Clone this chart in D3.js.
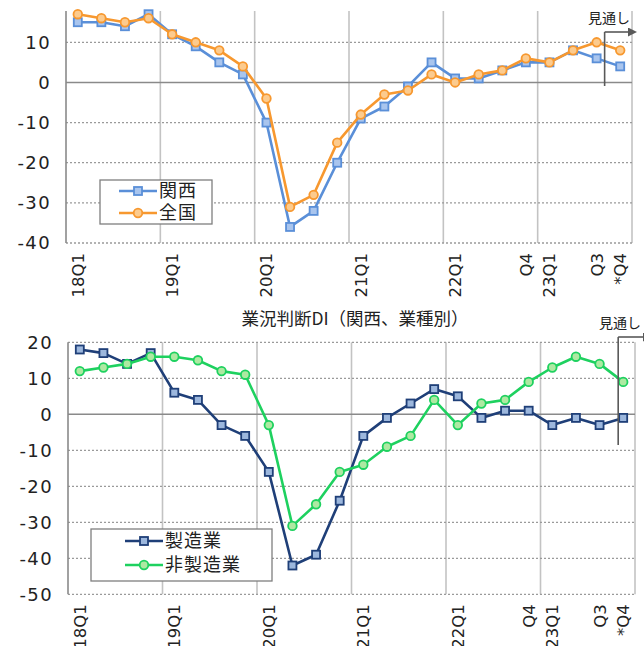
<!DOCTYPE html>
<html>
<head>
<meta charset="utf-8">
<script src="https://cdn.jsdelivr.net/npm/d3@7"></script>
<style>
  html, body { margin: 0; padding: 0; background: #fff; }
  svg { display: block; }
</style>
</head>
<body>
<svg id="chart" width="644" height="646"></svg>
<script>
// ---- data ----
const quarters = ["18Q1","18Q2","18Q3","18Q4","19Q1","19Q2","19Q3","19Q4",
                  "20Q1","20Q2","20Q3","20Q4","21Q1","21Q2","21Q3","21Q4",
                  "22Q1","22Q2","22Q3","22Q4","23Q1","23Q2","23Q3","23Q4"];
const tickLabels = ["18Q1","","","","19Q1","","","","20Q1","","","","21Q1","","","",
                    "22Q1","","","Q4","23Q1","","Q3","*Q4"];
const kansai   = [15,15,14,17,12,9,5,2,-10,-36,-32,-20,-9,-6,-1,5,1,1,3,5,5,8,6,4];
const zenkoku  = [17,16,15,16,12,10,8,4,-4,-31,-28,-15,-8,-3,-2,2,0,2,3,6,5,8,10,8];
const seizo    = [18,17,14,17,6,4,-3,-6,-16,-42,-39,-24,-6,-1,3,7,5,-1,1,1,-3,-1,-3,-1];
const hiseizo  = [12,13,14,16,16,15,12,11,-3,-31,-25,-16,-14,-9,-6,4,-3,3,4,9,13,16,14,9];
const topTicks = [10,0,-10,-20,-30,-40];
const bottomTicks = [20,10,0,-10,-20,-30,-40,-50];
const topSeriesNames = ["関西","全国"];
const bottomSeriesNames = ["製造業","非製造業"];
const bottomTitle = "業況判断DI（関西、業種別）";
const forecastLabel = "見通し";

const svg = d3.select("#chart");
const numFont = "'DejaVu Sans', sans-serif";
const jpFont = "'Noto Sans CJK JP', sans-serif";

svg.append("defs").append("marker")
  .attr("id","arrow").attr("viewBox","0 0 10 10").attr("refX",0).attr("refY",5)
  .attr("markerWidth",10).attr("markerHeight",9).attr("markerUnits","userSpaceOnUse")
  .attr("orient","auto")
  .append("path").attr("d","M0,0 L10,5 L0,10 Z").attr("fill","#595959");

function panel(opt) {
  const g = svg.append("g");
  const x = d3.scaleBand().domain(quarters).range([opt.left, opt.right]);
  const y = d3.scaleLinear().domain(opt.domain).range([opt.bottom, opt.top]);

  // vertical gridlines every 4 quarters + right edge
  const vLines = quarters.filter((q,i) => i % 4 === 0 && i > 0).map(q => x(q)).concat([opt.right]);
  g.selectAll(".vg").data(vLines).join("line")
    .attr("x1", d => d).attr("x2", d => d)
    .attr("y1", opt.top).attr("y2", opt.bottom)
    .attr("stroke", "#c3c3c3").attr("stroke-width", 1.6);

  // horizontal gridlines
  g.selectAll(".hg").data(opt.ticks.filter(t => t !== 0)).join("line")
    .attr("x1", opt.left).attr("x2", opt.right)
    .attr("y1", d => y(d)).attr("y2", d => y(d))
    .attr("stroke", "#9a9a9a").attr("stroke-width", 1.3)
    .attr("stroke-dasharray", "2,2");

  // zero line
  g.append("line").attr("x1", opt.left).attr("x2", opt.right)
    .attr("y1", y(0)).attr("y2", y(0))
    .attr("stroke", "#8a8a8a").attr("stroke-width", 1.6);

  // left axis
  g.append("line").attr("x1", opt.left).attr("x2", opt.left)
    .attr("y1", opt.top).attr("y2", opt.bottom)
    .attr("stroke", "#8a8a8a").attr("stroke-width", 1.6);

  // y tick labels
  g.selectAll(".yt").data(opt.ticks).join("text")
    .attr("x", opt.left - 15).attr("y", d => y(d)).attr("dy", "0.36em")
    .attr("text-anchor", "end")
    .attr("font-family", numFont).attr("font-size", 18)
    .attr("letter-spacing", "1.4px").attr("fill", "#222")
    .text(d => d);

  // x tick labels (rotated)
  g.selectAll(".xt").data(quarters.map((q,i) => ({q, t: tickLabels[i]})).filter(d => d.t)).join("text")
    .attr("transform", d => `translate(${x(d.q) + x.bandwidth()/2},${opt.bottom + 10}) rotate(-90)`)
    .attr("text-anchor", "end").attr("dy", "0.36em")
    .attr("font-family", numFont).attr("font-size", 16.5)
    .attr("fill", "#222")
    .text(d => d.t);

  // series
  opt.series.forEach(s => {
    const line = d3.line().x((d,i) => x(quarters[i]) + x.bandwidth()/2).y(d => y(d));
    g.append("path").datum(s.values).attr("d", line)
      .attr("fill", "none").attr("stroke", s.color).attr("stroke-width", 2.6)
      .attr("stroke-linejoin", "round");
    const pts = g.selectAll(null).data(s.values);
    if (s.shape === "square") {
      pts.join("rect")
        .attr("x", (d,i) => x(quarters[i]) + x.bandwidth()/2 - 4)
        .attr("y", d => y(d) - 4)
        .attr("width", 8).attr("height", 8)
        .attr("fill", s.fill).attr("stroke", s.color).attr("stroke-width", 1.8);
    } else {
      pts.join("circle")
        .attr("cx", (d,i) => x(quarters[i]) + x.bandwidth()/2)
        .attr("cy", d => y(d)).attr("r", 4.3)
        .attr("fill", s.fill).attr("stroke", s.color).attr("stroke-width", 1.8);
    }
  });

  // legend
  const L = opt.legend;
  g.append("rect").attr("x", L.x).attr("y", L.y).attr("width", L.w).attr("height", L.h)
    .attr("fill", "#fff").attr("stroke", "#7f7f7f").attr("stroke-width", 1.3);
  opt.series.forEach((s, i) => {
    const ly = L.y + L.first + i * L.step;
    g.append("line").attr("x1", L.lx).attr("x2", L.lx + 38).attr("y1", ly).attr("y2", ly)
      .attr("stroke", s.color).attr("stroke-width", 2.6);
    if (s.shape === "square") {
      g.append("rect").attr("x", L.lx + 19 - 4).attr("y", ly - 4).attr("width", 8).attr("height", 8)
        .attr("fill", s.fill).attr("stroke", s.color).attr("stroke-width", 1.8);
    } else {
      g.append("circle").attr("cx", L.lx + 19).attr("cy", ly).attr("r", 4.3)
        .attr("fill", s.fill).attr("stroke", s.color).attr("stroke-width", 1.8);
    }
    g.append("text").attr("x", L.lx + 40).attr("y", ly).attr("dy", "0.36em")
      .attr("font-family", jpFont).attr("font-size", 18).attr("letter-spacing", "1px")
      .attr("fill", "#222").text(s.name);
  });

  // forecast annotation
  const F = opt.forecast;
  const fx = x(quarters[F.idx]) + x.bandwidth()/2 + F.dx;
  g.append("line").attr("x1", fx).attr("x2", fx).attr("y1", F.y1).attr("y2", F.y2)
    .attr("stroke", "#595959").attr("stroke-width", 1.6);
  g.append("line").attr("x1", fx).attr("x2", F.ax).attr("y1", F.y1).attr("y2", F.y1)
    .attr("stroke", "#595959").attr("stroke-width", 1.6).attr("marker-end", "url(#arrow)");
  g.append("text").attr("x", F.tx).attr("y", F.ty).attr("dy", "0.36em")
    .attr("font-family", jpFont).attr("font-size", 14).attr("fill", "#222")
    .text(forecastLabel);

  return {x, y};
}

panel({
  left: 66, right: 632, top: 11, bottom: 243, domain: [-40, 17.8], ticks: topTicks,
  series: [
    {name: topSeriesNames[0], values: kansai, color: "#5a8fd8", fill: "#a9c5ee", shape: "square"},
    {name: topSeriesNames[1], values: zenkoku, color: "#f7982f", fill: "#fccb8e", shape: "circle"}
  ],
  legend: {x: 100, y: 180, w: 112, h: 44, first: 11, step: 22, lx: 119},
  forecast: {idx: 22, dx: 8, y1: 32, y2: 86, ax: 628, tx: 588, ty: 18}
});

panel({
  left: 68, right: 635, top: 342.3, bottom: 594.3, domain: [-50, 20], ticks: bottomTicks,
  series: [
    {name: bottomSeriesNames[0], values: seizo, color: "#1f3f78", fill: "#9cb7dd", shape: "square"},
    {name: bottomSeriesNames[1], values: hiseizo, color: "#1ed15f", fill: "#aee9a2", shape: "circle"}
  ],
  legend: {x: 91, y: 529, w: 181, h: 52, first: 12, step: 24, lx: 125},
  forecast: {idx: 23, dx: -5, y1: 337, y2: 445, ax: 643, tx: 599, ty: 323}
});

svg.append("text").attr("x", 355).attr("y", 319).attr("dy", "0.36em")
  .attr("text-anchor", "middle").attr("font-family", jpFont).attr("font-size", 17.5)
  .attr("fill", "#222").text(bottomTitle);
</script>
</body>
</html>
